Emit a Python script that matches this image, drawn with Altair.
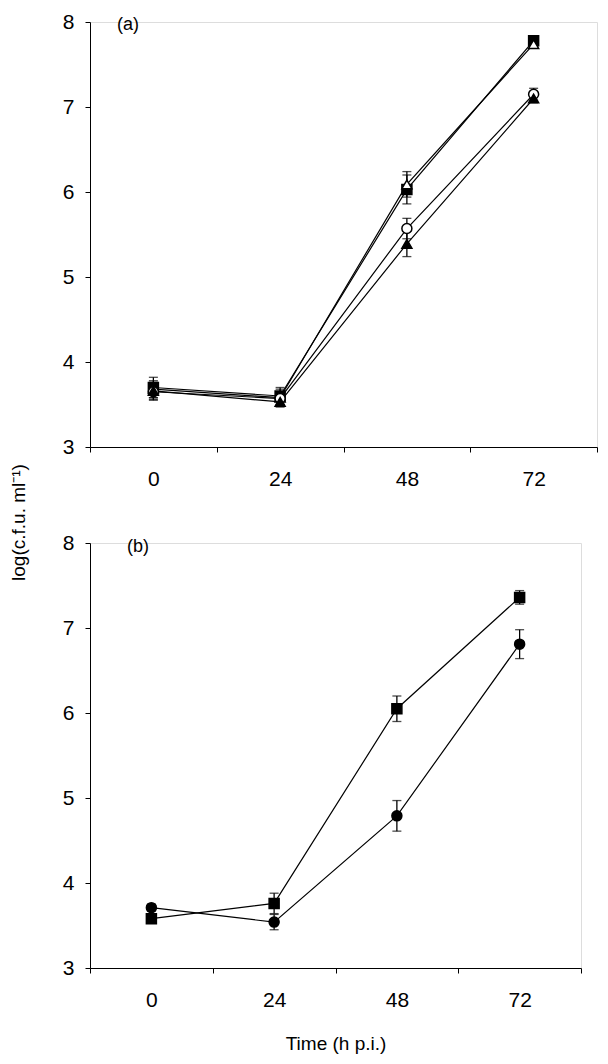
import altair as alt
import pandas as pd

times = [0, 24, 48, 72]

# panel (a)
a_names = ["sq", "otri", "ocirc", "ftri"]
a_sq = [3.70, 3.60, 6.03, 7.78]
a_sq_err = [0.12, 0.10, 0.17, 0.04]
a_otri = [3.68, 3.58, 6.09, 7.74]
a_otri_err = [0.10, 0.10, 0.15, 0.05]
a_ocirc = [3.65, 3.57, 5.57, 7.15]
a_ocirc_err = [0.10, 0.08, 0.12, 0.07]
a_ftri = [3.66, 3.53, 5.39, 7.10]
a_ftri_err = [0.10, 0.06, 0.15, 0.05]

# panel (b)
b_names = ["sq", "fcirc"]
b_sq = [3.58, 3.76, 6.05, 7.36]
b_sq_err = [0.04, 0.12, 0.15, 0.08]
b_fcirc = [3.71, 3.54, 4.79, 6.81]
b_fcirc_err = [0.04, 0.09, 0.18, 0.17]

x_ticks = [-12, 12, 36, 60, 84]
x_labels = [0, 24, 48, 72]
y_ticks = [3, 4, 5, 6, 7, 8]

shape_dom = ["sq", "otri", "ocirc", "ftri", "fcirc"]
shape_rng = ["square", "triangle-up", "circle", "triangle-up", "circle"]
fill_rng = ["black", "white", "white", "black", "black"]

FONT = "Liberation Sans"


def frame(names, series, errs):
    rows = []
    for n, vals, es in zip(names, series, errs):
        for t, v, e in zip(times, vals, es):
            rows.append({"t": t, "v": v, "lo": v - e, "hi": v + e, "s": n})
    return pd.DataFrame(rows)


def panel(df, width, label, label_dx, label_dy, ytitle, xtitle):
    xscale = alt.Scale(domain=[-12, 84], nice=False, zero=False)
    yscale = alt.Scale(domain=[3, 8], nice=False, zero=False)
    xaxis = alt.Axis(
        values=x_ticks + x_labels,
        labelExpr="datum.value % 24 == 0 ? datum.label : ''",
        tickOpacity=alt.condition("datum.value % 24 == 0", alt.value(0), alt.value(1)),
        tickSize=5,
        labelPadding=16,
        labelFlush=False,
        grid=False,
        domainColor="black",
        tickColor="black",
        labelFontSize=21,
        labelFont=FONT,
        labelColor="black",
        titleFont=FONT,
        titleFontSize=19,
        titleFontWeight="normal",
        titleColor="black",
        titlePadding=24,
    )
    yaxis = alt.Axis(
        values=y_ticks,
        format="d",
        tickSize=5,
        labelPadding=11,
        grid=False,
        domainColor="black",
        tickColor="black",
        labelFontSize=21,
        labelFont=FONT,
        labelColor="black",
        titleFont=FONT,
        titleFontSize=19,
        titleFontWeight="normal",
        titleColor="black",
        titleAngle=270,
        titleX=-62,
        titleY=500,
    )
    xt = xtitle if xtitle else None
    yt = ytitle if ytitle else None
    base = alt.Chart(df)
    lines = base.mark_line(color="black", strokeWidth=1.2).encode(
        x=alt.X("t:Q", scale=xscale, axis=xaxis, title=xt),
        y=alt.Y("v:Q", scale=yscale, axis=yaxis, title=yt),
        detail="s:N",
    )
    err = base.mark_errorbar(
        ticks={"size": 9, "color": "black", "thickness": 1.3},
        rule={"color": "black", "strokeWidth": 1.3},
    ).encode(
        x=alt.X("t:Q", title=xt),
        y=alt.Y("lo:Q", title=yt),
        y2="hi:Q",
        detail="s:N",
    )
    pts = base.mark_point(filled=True, opacity=1, stroke="black", strokeWidth=1.5, size=100).encode(
        x=alt.X("t:Q", title=xt),
        y=alt.Y("v:Q", title=yt),
        shape=alt.Shape("s:N", scale=alt.Scale(domain=shape_dom, range=shape_rng), legend=None),
        fill=alt.Fill("s:N", scale=alt.Scale(domain=shape_dom, range=fill_rng), legend=None),
    )
    return alt.layer(lines, err, pts).properties(
        width=width,
        height=425,
        title=alt.TitleParams(
            label,
            anchor="start",
            frame="group",
            dx=label_dx,
            dy=label_dy,
            fontSize=18,
            font=FONT,
            fontWeight="normal",
            color="black",
        ),
    )


df_a = frame(a_names, [a_sq, a_otri, a_ocirc, a_ftri], [a_sq_err, a_otri_err, a_ocirc_err, a_ftri_err])
df_b = frame(b_names, [b_sq, b_fcirc], [b_sq_err, b_fcirc_err])

top = panel(df_a, 507, "(a)", 27, 27, "log(c.f.u. ml⁻¹)", None)
bottom = panel(df_b, 491, "(b)", 37, 28, None, "Time (h p.i.)")

chart = (
    alt.vconcat(top, bottom, spacing=96, bounds="flush")
    .properties(padding={"top": 2, "left": 0, "right": 0, "bottom": 0})
    .configure_view(stroke=None)
    .configure(background="white")
)

chart.save("out.html", embed_options={"renderer": "svg", "actions": False})
